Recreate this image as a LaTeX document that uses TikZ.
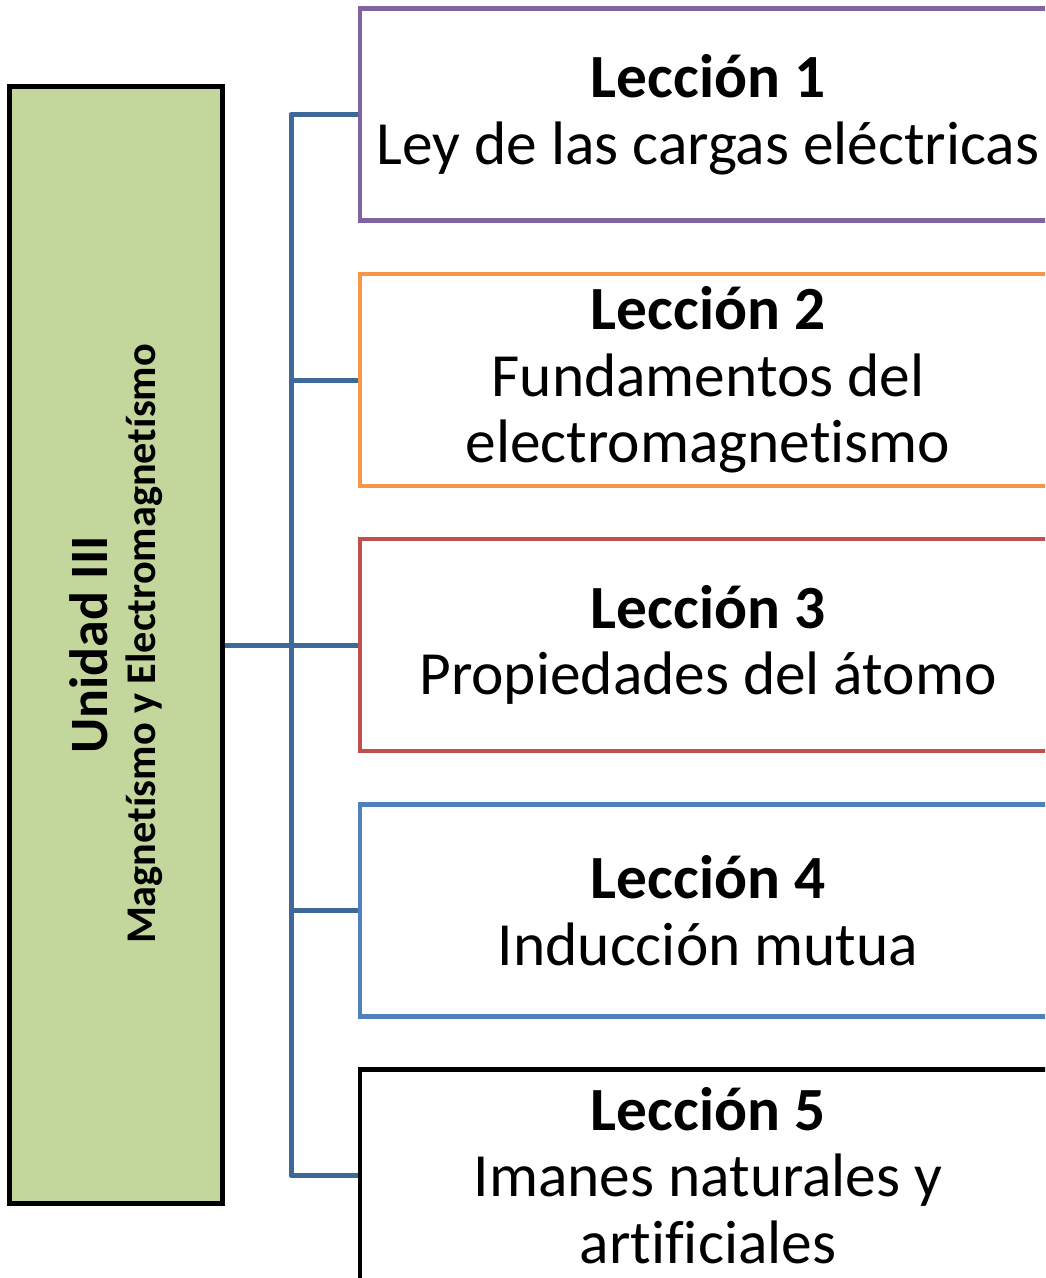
\documentclass[tikz,border=0pt]{standalone}
\usepackage{fontspec}
\setmainfont{Carlito}[RawFeature=-liga]
\definecolor{conncol}{RGB}{62,104,153}
\definecolor{greenfill}{HTML}{C3D69B}
\definecolor{c1}{HTML}{8064A2}
\definecolor{c2}{HTML}{F79646}
\definecolor{c3}{HTML}{C0504D}
\definecolor{c4}{HTML}{4F81BD}
\begin{document}
\begin{tikzpicture}[x=1pt,y=-1pt,
  lesson/.style={draw, line width=4.5pt, fill=white, rectangle, minimum width=696pt, minimum height=212pt,
    inner sep=0pt, align=center, font=\fontsize{61.4}{66.5}\selectfont},
  conn/.style={draw=conncol, line width=5pt, line join=round}]
\clip (0,0) rectangle (1045,1278);
\fill[white] (0,0) rectangle (1045,1278);
\node[draw=black, line width=5pt, fill=greenfill, minimum width=213pt, minimum height=1117pt, inner sep=0pt] (u) at (115.5,645) {};
\node[rotate=90, anchor=base, inner sep=0pt, font=\fontsize{54}{54}\selectfont\bfseries] (ut) at (107,645) {Unidad III};
\node[rotate=90, anchor=base, inner sep=0pt, font=\fontsize{42.3}{42.3}\selectfont\bfseries] (us) at (155,644) {Magnetísmo y Electromagnetísmo};
\coordinate (j) at (291,645);
\node[lesson, draw=c1] (b1) at (708,114.5) {\textbf{Lección 1}\\Ley de las cargas eléctricas};
\node[lesson, draw=c2] (b2) at (708,380) {\textbf{Lección 2}\\Fundamentos del\\electromagnetismo};
\node[lesson, draw=c3] (b3) at (708,645) {\textbf{Lección 3}\\Propiedades del átomo};
\node[lesson, draw=c4] (b4) at (708,910.5) {\textbf{Lección 4}\\Inducción mutua};
\node[lesson, draw=black] (b5) at (708,1175.5) {\textbf{Lección 5}\\Imanes naturales y\\artificiales};
\draw[conn] (b1.west) -- (b1.west -| j) -- (b5.west -| j) -- (b5.west);
\draw[conn] (b2.west) -- (b2.west -| j);
\draw[conn] (b4.west) -- (b4.west -| j);
\draw[conn] (u.east) -- (b3.west);
\end{tikzpicture}
\end{document}
